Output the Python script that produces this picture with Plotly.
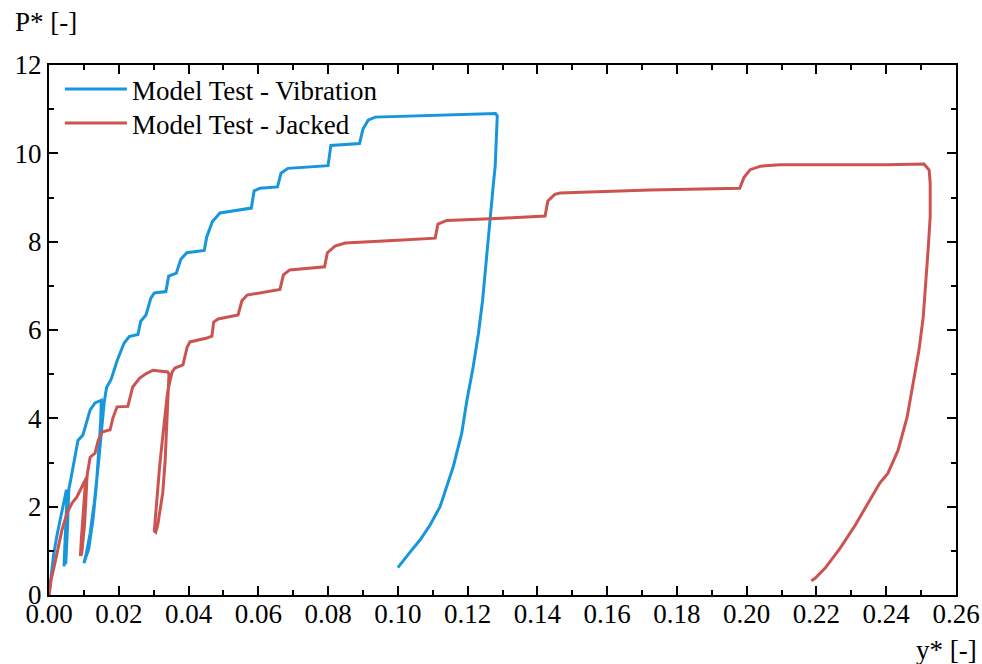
import plotly.graph_objects as go

# ---- data ----
vib_y = [0, 0.0007, 0.0013, 0.0023, 0.0037, 0.0050, 0.0052, 0.0049, 0.0045, 0.0043,
         0.0045, 0.0049, 0.0053, 0.0055, 0.0054, 0.0051, 0.0048, 0.0050, 0.0054, 0.0057,
         0.0062, 0.0069, 0.0077, 0.0083, 0.0097, 0.0109, 0.0118, 0.0132, 0.0150, 0.0148,
         0.0143, 0.0136, 0.0126, 0.0114, 0.0100, 0.0106, 0.0118, 0.0130, 0.0142, 0.0151,
         0.0158, 0.0165, 0.0178, 0.0195, 0.0215, 0.0230, 0.0255, 0.0263, 0.0278, 0.0292,
         0.0302, 0.0335, 0.0343, 0.0365, 0.0378, 0.0395, 0.0445, 0.0452, 0.0468, 0.0490,
         0.0520, 0.0580, 0.0588, 0.0605, 0.0655, 0.0665, 0.0685, 0.0800, 0.0808, 0.0890,
         0.0900, 0.0915, 0.0935, 0.1100, 0.1280, 0.1285, 0.1283, 0.1279, 0.1274, 0.1264,
         0.1255, 0.1243, 0.1231, 0.1216, 0.1198, 0.1183, 0.1159, 0.1140, 0.1121, 0.1092,
         0.1064, 0.1035, 0.1000]
vib_p = [0, 0.45, 0.90, 1.36, 1.92, 2.38, 2.30, 1.60, 0.95, 0.65,
         0.85, 1.50, 2.25, 2.33, 1.70, 1.00, 0.70, 0.95, 1.70, 2.40,
         2.60, 2.90, 3.28, 3.50, 3.62, 3.96, 4.19, 4.35, 4.41, 3.90,
         3.20, 2.50, 1.70, 1.05, 0.72, 0.90, 1.40, 2.10, 3.00, 3.80,
         4.35, 4.70, 4.88, 5.30, 5.70, 5.85, 5.90, 6.20, 6.34, 6.72,
         6.84, 6.87, 7.22, 7.29, 7.60, 7.75, 7.80, 8.10, 8.45, 8.65,
         8.69, 8.76, 9.15, 9.21, 9.24, 9.55, 9.66, 9.72, 10.18, 10.22,
         10.55, 10.75, 10.82, 10.86, 10.90, 10.85, 10.45, 9.70, 9.32, 8.49,
         7.74, 6.68, 5.92, 5.17, 4.41, 3.66, 2.91, 2.45, 2.00, 1.58,
         1.25, 0.97, 0.62]

jack_y = [0, 0.0006, 0.0017, 0.0026, 0.0037, 0.0052, 0.0066, 0.0080, 0.0095, 0.0103,
          0.0108, 0.0105, 0.0098, 0.0090, 0.0093, 0.0099, 0.0105, 0.0108, 0.0102, 0.0094,
          0.0092, 0.0097, 0.0104, 0.0110, 0.0118, 0.0132, 0.0141, 0.0152, 0.0175, 0.0183,
          0.0195, 0.0226, 0.0240, 0.0260, 0.0280, 0.0298, 0.0340, 0.0344, 0.0340, 0.0336,
          0.0333, 0.0326, 0.0318, 0.0312, 0.0306, 0.0302, 0.0305, 0.0310, 0.0317, 0.0324,
          0.0331, 0.0340, 0.0347, 0.0353, 0.0361,
          0.0384, 0.0396, 0.0404, 0.0453, 0.0467, 0.0472, 0.0485, 0.0542, 0.0553, 0.0568,
          0.0625, 0.0662, 0.0672, 0.0690, 0.0790, 0.0798, 0.0820, 0.0849, 0.1000, 0.1107,
          0.1115, 0.1140, 0.1300, 0.1422, 0.1430, 0.1450, 0.1465, 0.1723, 0.1980, 0.1992,
          0.2010, 0.2040, 0.2096, 0.2400, 0.2508, 0.2523, 0.2526, 0.2526, 0.2520, 0.2514,
          0.2506, 0.2494, 0.2477, 0.2460, 0.2434, 0.2405, 0.2382, 0.2354, 0.2311, 0.2268,
          0.2225, 0.2196, 0.2185]
jack_p = [0, 0.34, 0.72, 1.09, 1.47, 1.86, 2.08, 2.22, 2.45, 2.60,
          2.67, 2.00, 1.40, 0.88, 1.30, 2.00, 2.60, 2.50, 1.60, 0.95,
          0.90, 1.50, 2.30, 2.75, 3.12, 3.21, 3.50, 3.69, 3.74, 4.00,
          4.26, 4.27, 4.71, 4.91, 5.02, 5.09, 5.05, 5.00, 4.30, 3.60,
          3.05, 2.31, 1.92, 1.60, 1.42, 1.45, 1.75, 2.31, 2.90, 3.44,
          4.00, 4.60, 4.85, 5.05, 5.14,
          5.21, 5.61, 5.73, 5.82, 5.86, 6.18, 6.25, 6.34, 6.66, 6.79,
          6.86, 6.92, 7.25, 7.36, 7.43, 7.75, 7.90, 7.97, 8.03, 8.08,
          8.40, 8.48, 8.53, 8.58, 8.92, 9.07, 9.10, 9.17, 9.21, 9.45,
          9.63, 9.71, 9.74, 9.74, 9.76, 9.62, 9.33, 8.56, 7.81, 7.06,
          6.29, 5.55, 4.80, 4.03, 3.28, 2.76, 2.54, 2.15, 1.58, 1.06,
          0.61, 0.38, 0.32]

series_names = ["Model Test - Vibration", "Model Test - Jacked"]
x_ticks = [0.00, 0.02, 0.04, 0.06, 0.08, 0.10, 0.12, 0.14, 0.16, 0.18, 0.20, 0.22, 0.24, 0.26]
y_ticks = [0, 2, 4, 6, 8, 10, 12]

BLUE = "#1896DC"
RED = "#CC5450"
FONT = "Liberation Serif, Times New Roman, serif"

fig = go.Figure()
fig.add_trace(go.Scatter(x=vib_y, y=vib_p, mode="lines", name=series_names[0],
                         line=dict(color=BLUE, width=3), legend="legend"))
fig.add_trace(go.Scatter(x=jack_y, y=jack_p, mode="lines", name=series_names[1],
                         line=dict(color=RED, width=3), legend="legend2"))

axis_common = dict(showgrid=False, zeroline=False, showline=True, linecolor="black",
                   linewidth=2, mirror="ticks", ticks="inside", ticklen=9, tickwidth=2,
                   tickcolor="black", automargin=False)

legend_common = dict(xanchor="left", yanchor="top", bgcolor="rgba(0,0,0,0)",
                     font=dict(size=27), itemwidth=62)

fig.update_layout(
    width=982, height=664,
    margin=dict(l=49, r=26, t=65, b=69, autoexpand=False),
    paper_bgcolor="white", plot_bgcolor="white",
    font=dict(family=FONT, size=27, color="black"),
    showlegend=True,
    legend=dict(x=0.012, y=1.0, **legend_common),
    legend2=dict(x=0.012, y=1.0 - 34 / 530, **legend_common),
    xaxis=dict(range=[0, 0.26], tickvals=x_ticks, tickformat=".2f",
               ticklabelstandoff=-6,
               minor=dict(dtick=0.01, ticks="inside", ticklen=5, tickwidth=1.5,
                          tickcolor="black"),
               **axis_common),
    yaxis=dict(range=[0, 12], tickvals=y_ticks,
               minor=dict(dtick=1, ticks="inside", ticklen=5, tickwidth=1.5,
                          tickcolor="black"),
               **axis_common),
    annotations=[
        dict(text="P* [-]", xref="paper", yref="paper", x=(13 - 49) / 907, y=(595 - 22) / 530,
             xanchor="left", yanchor="middle", showarrow=False, font=dict(size=27)),
        dict(text="y* [-]", xref="paper", yref="paper", x=(979 - 49) / 907, y=(595 - 650) / 530,
             xanchor="right", yanchor="middle", showarrow=False, font=dict(size=27)),
    ],
)

# remove the default 8px page margin so the 982x664 figure fills the window exactly
fig.write_html("out.html",
               config={"displayModeBar": False},
               post_script="document.body.style.margin='0';document.body.style.overflow='hidden';")
